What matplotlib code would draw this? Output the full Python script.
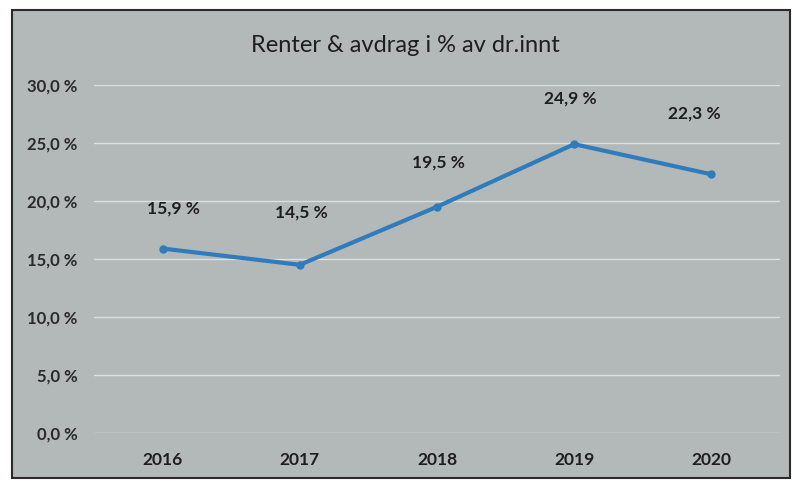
import matplotlib.pyplot as plt
from matplotlib.patches import Rectangle

years = ['2016', '2017', '2018', '2019', '2020']
values = [15.9, 14.5, 19.5, 24.9, 22.3]
yticks = [0, 5, 10, 15, 20, 25, 30]

plt.rcParams['font.family'] = ['Lato', 'DejaVu Sans']

fig = plt.figure(figsize=(7.92, 4.84), dpi=100)
fig.patch.set_facecolor('white')

# grey chart panel with dark frame, kept behind the axes
panel = Rectangle((12 / 792, 6 / 484), 778 / 792, 468 / 484, transform=fig.transFigure,
                  facecolor='#b3b8b8', edgecolor='#2a2a2a', linewidth=1.5, zorder=-10)
fig.patches.append(panel)

ax = fig.add_axes([94 / 792, 51 / 484, 686 / 792, 348 / 484])
ax.set_facecolor('none')

x = range(len(years))
ax.plot(x, values, color='#2f7cbc', linewidth=3, marker='o', markersize=5,
        solid_capstyle='round', zorder=3)

# label offsets (points) as placed in the original
offsets = [(8, 29), (1, 38), (1, 32), (-3, 33), (-12, 44)]
for i, v in enumerate(values):
    ax.annotate(f'{v:.1f} %'.replace('.', ','), (i, v), xytext=offsets[i],
                textcoords='offset points', ha='center', va='center',
                fontsize=12.5, fontweight='bold', color='#1e1e1e')

ax.set_xlim(-0.5, len(years) - 0.5)
ax.set_ylim(0, 30)
ax.set_xticks(list(x))
ax.set_xticklabels(years, fontsize=12.5, fontweight='bold', color='#1e1e1e')
ax.set_yticks(yticks)
ax.set_yticklabels([f'{t:.1f} %'.replace('.', ',') for t in yticks],
                   fontsize=12, fontweight='bold', color='#2a2a2a')
ax.tick_params(axis='both', length=0)
ax.tick_params(axis='y', pad=12)
ax.tick_params(axis='x', pad=14)
ax.grid(axis='y', color='#e4e8e7', linewidth=1, alpha=0.85)
ax.set_axisbelow(True)
for s in ax.spines.values():
    s.set_visible(False)

fig.text(405 / 792, 1 - 45 / 484, 'Renter & avdrag i % av dr.innt', ha='center', va='center',
         fontsize=17, color='#1e1e1e')

fig.savefig('out.png', dpi=100, facecolor=fig.get_facecolor())
